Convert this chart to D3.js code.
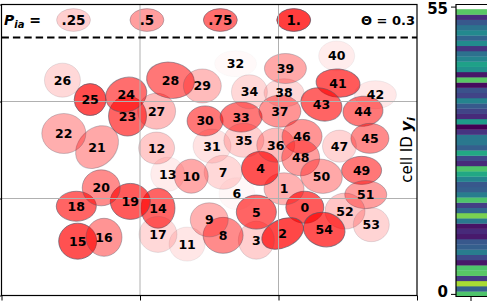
<!DOCTYPE html>
<html>
<head>
<meta charset="utf-8">
<script src="https://cdn.jsdelivr.net/npm/d3@7"></script>
<style>
body{margin:0;background:#fff}
text{font-family:"DejaVu Sans",sans-serif}
</style>
</head>
<body>
<svg id="chart"></svg>
<script>
// Cells 0..54 : ellipse centre, width, height (data units), tilt (deg) and assignment probability
var cellX = [2.19,2.04,2.03,1.84,1.87,1.84,1.70,1.60,1.60,1.50,1.37,1.34,1.12,1.20,1.13,0.55,0.74,1.13,0.54,0.93,
             0.72,0.69,0.45,0.91,0.90,0.64,0.44,1.12,1.22,1.45,1.47,1.52,1.69,1.73,1.79,1.75,1.98,2.01,2.04,2.05,
             2.42,2.43,2.70,2.31,2.61,2.66,2.17,2.44,2.16,2.60,2.31,2.63,2.48,2.67,2.33];
var cellY = [0.91,1.10,0.64,0.57,1.31,0.86,1.05,1.27,0.62,0.78,1.23,0.53,1.52,1.25,0.90,0.56,0.60,0.63,0.92,0.97,
             1.11,1.53,1.67,1.85,2.07,2.02,2.22,1.90,2.22,2.16,1.80,1.54,2.39,1.84,2.10,1.60,1.55,1.90,2.09,2.34,
             2.47,2.19,2.07,1.97,1.90,1.62,1.64,1.54,1.42,1.29,1.23,1.04,0.87,0.73,0.68];
var cellW = [0.274,0.289,0.318,0.260,0.274,0.289,0.260,0.274,0.289,0.274,0.245,0.260,0.260,0.245,0.245,0.274,0.260,0.274,0.289,0.289,
             0.274,0.347,0.318,0.274,0.303,0.230,0.260,0.274,0.347,0.274,0.260,0.274,0.303,0.303,0.260,0.289,0.274,0.303,0.289,0.303,
             0.260,0.318,0.303,0.303,0.289,0.274,0.289,0.245,0.274,0.289,0.303,0.303,0.289,0.260,0.303];
var cellH = [0.330,0.330,0.289,0.392,0.351,0.351,0.330,0.351,0.371,0.351,0.351,0.351,0.330,0.351,0.412,0.371,0.392,0.371,0.309,0.371,
             0.371,0.381,0.412,0.412,0.351,0.330,0.351,0.371,0.371,0.351,0.309,0.351,0.268,0.309,0.351,0.351,0.351,0.330,0.289,0.309,
             0.309,0.289,0.289,0.330,0.309,0.309,0.351,0.330,0.371,0.289,0.351,0.289,0.371,0.351,0.351];
var cellAngle = [0,0,-25,0,0,0,0,0,0,0,0,0,0,0,0,0,0,0,0,0,
                 0,-45,0,0,-20,0,0,0,10,0,0,0,0,0,0,0,0,0,0,0,
                 0,5,0,20,-5,0,0,0,0,0,10,0,0,0,15];
var cellP = [0.85,0.4,0.95,0.25,0.9,0.8,0.04,0.2,0.6,0.4,0.45,0.13,0.28,0.1,0.8,0.9,0.55,0.2,0.8,0.85,
             0.6,0.45,0.42,0.8,0.75,0.92,0.2,0.35,0.7,0.35,0.7,0.15,0.03,0.7,0.2,0.25,0.35,0.55,0.2,0.45,
             0.1,0.85,0.12,0.8,0.7,0.6,0.55,0.22,0.5,0.7,0.45,0.5,0.3,0.22,0.9];

// legend row
var legendP = [0.25,0.5,0.75,1];
var legendLabels = [".25",".5",".75","1."];
var legendX = [0.52,1.05,1.58,2.11];
var legendY = 2.84;
var legendW = 0.245, legendH = 0.235;
var theta = 0.3;
var dividerY = 2.66;

// colorbar: one value per cell id (bottom = 0)
var barValues = [0.72,0.30,0.87,0.17,0.74,0.72,0.06,0.22,0.42,0.30,0.27,0.07,0.12,0.05,0.40,0.80,0.33,0.18,0.72,0.42,
                 0.30,0.27,0.45,0.60,0.72,0.12,0.22,0.60,0.30,0.40,0.40,0.15,0.00,0.55,0.12,0.20,0.28,0.45,0.20,0.25,
                 0.03,0.74,0.06,0.50,0.57,0.45,0.37,0.15,0.48,0.32,0.47,0.38,0.27,0.13,0.74];
var barTicks = [0,55];

var width = 487, height = 301;
var svg = d3.select("#chart").attr("width", width).attr("height", height);

var x = d3.scaleLinear().domain([0,3]).range([1.5,417]);
var y = d3.scaleLinear().domain([0,3]).range([295.5,4.5]);
var alpha = d3.scaleLinear().domain([0,1]).range([0,0.76]);

var cells = d3.range(cellX.length).map(function(i){
  return {id:i, x:cellX[i], y:cellY[i], w:cellW[i], h:cellH[i], a:cellAngle[i], p:cellP[i]};
});

function rx(w){ return (x(w)-x(0))/2; }
function ry(h){ return (y(0)-y(h))/2; }

// ellipses
svg.append("g").selectAll("ellipse")
  .data(cells)
  .enter()
  .append("ellipse")
    .attr("transform", function(d){ return "translate("+x(d.x)+","+y(d.y)+") rotate("+d.a+")"; })
    .attr("rx", function(d){ return rx(d.w); })
    .attr("ry", function(d){ return ry(d.h); })
    .attr("fill", "#ff0000")
    .attr("fill-opacity", function(d){ return alpha(d.p); })
    .attr("stroke", "#5a5a6a")
    .attr("stroke-opacity", function(d){ return alpha(d.p); })
    .attr("stroke-width", 1);

// legend ellipses
svg.append("g").selectAll("ellipse")
  .data(legendP)
  .enter()
  .append("ellipse")
    .attr("cx", function(d,i){ return x(legendX[i]); })
    .attr("cy", y(legendY))
    .attr("rx", rx(legendW))
    .attr("ry", ry(legendH))
    .attr("fill", "#ff0000")
    .attr("fill-opacity", function(d){ return alpha(d); })
    .attr("stroke", "#5a5a6a")
    .attr("stroke-opacity", function(d){ return alpha(d); });

// grid on top of the patches
var grid = svg.append("g").attr("stroke", "#b0b0b0").attr("stroke-width", 1);
grid.selectAll("line.gx").data([1,2]).enter().append("line")
  .attr("x1", d=>x(d)).attr("x2", d=>x(d)).attr("y1", y(0)).attr("y2", y(3));
grid.selectAll("line.gy").data([1,2]).enter().append("line")
  .attr("x1", x(0)).attr("x2", x(3)).attr("y1", d=>y(d)).attr("y2", d=>y(d));

// cell labels
svg.append("g").selectAll("text")
  .data(cells)
  .enter()
  .append("text")
    .attr("x", d=>x(d.x))
    .attr("y", d=>y(d.y))
    .attr("dy", "0.36em")
    .attr("text-anchor", "middle")
    .style("font-size", "12.5px")
    .style("font-weight", "bold")
    .text(d=>d.id);

// legend labels
svg.append("g").selectAll("text")
  .data(legendLabels)
  .enter()
  .append("text")
    .attr("x", (d,i)=>x(legendX[i]))
    .attr("y", y(legendY))
    .attr("dy", "0.36em")
    .attr("text-anchor", "middle")
    .style("font-size", "13.5px")
    .style("font-weight", "bold")
    .text(d=>d);

var pLabel = svg.append("text")
    .attr("x", 4)
    .attr("y", y(legendY))
    .attr("dy", "0.36em")
    .style("font-size", "14px")
    .style("font-weight", "bold");
pLabel.append("tspan").style("font-style", "italic").text("P");
pLabel.append("tspan").style("font-style", "italic").style("font-size", "10px").attr("dy", "3").text("ia");
pLabel.append("tspan").attr("dy", "-3").text(" =");

svg.append("text")
    .attr("x", x(3)-2)
    .attr("y", y(legendY))
    .attr("dy", "0.36em")
    .attr("text-anchor", "end")
    .style("font-size", "13px")
    .style("font-weight", "bold")
    .text("\u0398 = " + theta);

// dashed divider
svg.append("line")
    .attr("x1", x(0)).attr("x2", x(3))
    .attr("y1", y(dividerY)).attr("y2", y(dividerY))
    .attr("stroke", "#000")
    .attr("stroke-width", 2)
    .attr("stroke-dasharray", "7.4,4");

// axes (labels fall outside the picture)
svg.append("g")
    .attr("transform", "translate(0,"+y(0)+")")
    .call(d3.axisBottom(x).ticks(3).tickSize(5).tickFormat(""))
    .call(g=>g.select(".domain").remove());
svg.append("g")
    .attr("transform", "translate("+x(0)+",0)")
    .call(d3.axisLeft(y).ticks(3).tickSize(5).tickFormat(""))
    .call(g=>g.select(".domain").remove());

svg.append("rect")
    .attr("x", x(0)).attr("y", y(3))
    .attr("width", x(3)-x(0)).attr("height", y(0)-y(3))
    .attr("fill", "none")
    .attr("stroke", "#000")
    .attr("stroke-width", 1.2);

// label of the side bar
var cellLabel = svg.append("text")
    .attr("transform", "translate(412,150) rotate(-90)")
    .attr("text-anchor", "middle")
    .style("font-size", "15px");
cellLabel.append("tspan").text("cell ID ");
cellLabel.append("tspan").style("font-weight", "bold").style("font-style", "italic").style("font-size", "16px").text("y");
cellLabel.append("tspan").style("font-weight", "bold").style("font-style", "italic").style("font-size", "11px").attr("dy", "3").text("i");

// side colour bar
var barY = d3.scaleLinear().domain([-0.5,55.4]).range([296.5,4.5]);
var barLeft = 456, barRight = 492;
var bar = svg.append("g");
bar.selectAll("rect")
  .data(barValues)
  .enter()
  .append("rect")
    .attr("x", barLeft)
    .attr("y", (d,i)=>barY(i+0.5))
    .attr("width", barRight-barLeft)
    .attr("height", (d,i)=>barY(i-0.5)-barY(i+0.5)+0.3)
    .attr("fill", d=>d3.interpolateViridis(d));

bar.append("path")
    .attr("d", "M"+barRight+","+barY(55.4)+"H"+barLeft+"V"+barY(-0.5)+"H"+barRight)
    .attr("fill", "none")
    .attr("stroke", "#000")
    .attr("stroke-width", 1.2);

svg.append("g")
    .attr("transform", "translate("+barLeft+",0)")
    .call(d3.axisLeft(barY).tickValues(barTicks).tickSize(5).tickPadding(3))
    .call(g=>g.select(".domain").remove())
    .call(g=>g.selectAll("text").style("font-size","15px").style("font-weight","bold")
              .style("font-family","'DejaVu Sans',sans-serif").attr("fill","#000")
              .attr("dy", d=>d===0 ? "0.2em" : "0.45em"));

svg.append("line")
    .attr("x1", 471).attr("x2", 471)
    .attr("y1", barY(-0.5)).attr("y2", barY(-0.5)+5)
    .attr("stroke", "#000");
</script>
</body>
</html>
